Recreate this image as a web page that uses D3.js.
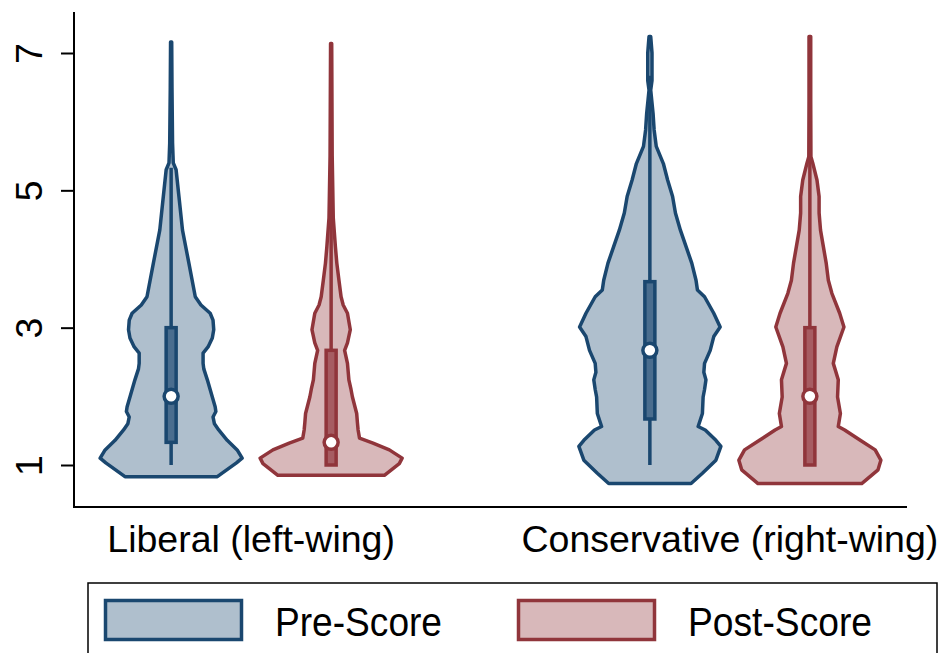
<!DOCTYPE html>
<html>
<head>
<meta charset="utf-8">
<script src="https://cdn.jsdelivr.net/npm/d3@7"></script>
<style>
  body { margin: 0; background: #fff; }
  svg { display: block; font-family: "Liberation Sans", Arial, sans-serif; }
</style>
</head>
<body>
<svg id="chart" width="947" height="653"></svg>
<script>
// groups on the x axis and the two series
const groups = ["Liberal (left-wing)", "Conservative (right-wing)"];
const series = ["Pre-Score", "Post-Score"];
const yTicks = [1, 3, 5, 7];

// violin outlines: [score, relative density]
const libPre = [
  [0.83, 0.65], [1.03, 0.92], [1.10, 1.00], [1.22, 0.93], [1.36, 0.79],
  [1.51, 0.67], [1.60, 0.61], [1.70, 0.59], [1.78, 0.63], [1.85, 0.62],
  [1.99, 0.58], [2.24, 0.51], [2.40, 0.46], [2.48, 0.45], [2.63, 0.45],
  [2.72, 0.52], [2.85, 0.58], [2.97, 0.60], [3.11, 0.59], [3.21, 0.55],
  [3.33, 0.42], [3.45, 0.34], [3.94, 0.25], [4.42, 0.16], [4.91, 0.11],
  [5.30, 0.07], [5.40, 0.03], [5.69, 0.02], [6.50, 0.012], [7.16, 0.008]
];
const libPost = [
  [0.85, 0.75], [1.02, 0.96], [1.10, 1.00], [1.22, 0.82], [1.32, 0.59],
  [1.39, 0.40], [1.51, 0.38], [1.62, 0.37], [1.75, 0.36], [1.99, 0.30],
  [2.10, 0.28], [2.24, 0.25], [2.48, 0.23], [2.67, 0.19], [2.78, 0.23],
  [2.97, 0.27], [3.21, 0.23], [3.33, 0.17], [3.45, 0.14], [3.69, 0.11],
  [3.94, 0.08], [4.18, 0.06], [4.60, 0.03], [5.50, 0.015], [7.14, 0.008]
];
const consPre = [
  [0.73, 0.58], [0.88, 0.74], [1.07, 0.93], [1.27, 1.00], [1.36, 0.93],
  [1.51, 0.78], [1.56, 0.68], [1.75, 0.74], [1.99, 0.75], [2.10, 0.77],
  [2.24, 0.79], [2.35, 0.76], [2.48, 0.77], [2.67, 0.85], [2.87, 0.90],
  [3.01, 0.99], [3.21, 0.90], [3.45, 0.77], [3.55, 0.67], [3.69, 0.65],
  [3.94, 0.59], [4.18, 0.51], [4.42, 0.43], [4.67, 0.36], [4.91, 0.32],
  [5.15, 0.25], [5.39, 0.19], [5.64, 0.09], [5.88, 0.06], [6.12, 0.045],
  [6.46, 0.012], [6.60, 0.03], [7.00, 0.03], [7.24, 0.012]
];
const consPost = [
  [0.73, 0.73], [0.93, 0.96], [1.07, 1.00], [1.22, 0.92], [1.36, 0.71],
  [1.51, 0.49], [1.56, 0.40], [1.75, 0.43], [1.99, 0.39], [2.24, 0.40],
  [2.48, 0.33], [2.72, 0.38], [3.01, 0.48], [3.21, 0.42], [3.50, 0.31],
  [3.69, 0.26], [3.94, 0.23], [4.18, 0.19], [4.42, 0.15], [4.67, 0.13],
  [4.91, 0.13], [5.15, 0.10], [5.40, 0.04], [5.49, 0.015], [6.30, 0.012],
  [7.24, 0.012]
];

// box stats: [q1, median, q3, lower adjacent, upper adjacent]
const libPreBox = [1.33, 2.00, 3.00, 1.00, 5.33];
const libPostBox = [1.00, 1.33, 2.67, 1.00, 5.00];
const consPreBox = [1.67, 2.67, 3.67, 1.00, 6.67];
const consPostBox = [1.00, 2.00, 3.00, 1.00, 6.00];

const violins = [
  {group: groups[0], serie: series[0], dens: libPre, box: libPreBox},
  {group: groups[0], serie: series[1], dens: libPost, box: libPostBox},
  {group: groups[1], serie: series[0], dens: consPre, box: consPreBox},
  {group: groups[1], serie: series[1], dens: consPost, box: consPostBox}
];

const colors = {
  "Pre-Score":  {line: "#1a476f", fill: "#afbfcd", box: "#4a6d8e"},
  "Post-Score": {line: "#90353b", fill: "#d8b8ba", box: "#a65c62"}
};

const svg = d3.select("#chart");

const axisLeft = 74, axisRight = 907, axisTop = 12, axisBottom = 507;

const y = d3.scaleLinear().domain([1, 7]).range([465, 53]);
const x = d3.scalePoint().domain(groups).range([axisLeft, axisRight]).padding(0.37);
const xInner = d3.scalePoint().domain(series).range([-80, 80]);
const w = d3.scaleLinear().domain([0, 1]).range([0, 71]);

// axes
svg.append("line")
  .attr("x1", axisLeft).attr("x2", axisLeft)
  .attr("y1", axisTop).attr("y2", axisBottom)
  .attr("stroke", "#000").attr("stroke-width", 2);
svg.append("line")
  .attr("x1", axisLeft - 1).attr("x2", axisRight)
  .attr("y1", axisBottom).attr("y2", axisBottom)
  .attr("stroke", "#000").attr("stroke-width", 2);

const yAxis = svg.append("g")
  .attr("transform", `translate(${axisLeft},0)`)
  .call(d3.axisLeft(y).tickValues(yTicks).tickSize(13).tickFormat(d3.format("d")));
yAxis.select(".domain").remove();
yAxis.selectAll(".tick line").attr("stroke", "#000").attr("stroke-width", 2);
yAxis.selectAll(".tick text")
  .attr("transform", "rotate(-90)")
  .attr("x", 0).attr("y", -32).attr("dy", 0)
  .attr("text-anchor", "middle")
  .attr("fill", "#000")
  .style("font-size", "37.5px")
  .style("font-family", "'Liberation Sans', Arial, sans-serif");

// group labels
svg.append("g").selectAll("text")
  .data(groups)
  .join("text")
  .attr("x", d => x(d))
  .attr("y", 552)
  .attr("text-anchor", "middle")
  .style("font-size", "37.5px")
  .text(d => d);

// violins
const vg = svg.append("g").selectAll("g")
  .data(violins)
  .join("g")
  .attr("transform", d => `translate(${x(d.group) + xInner(d.serie)},0)`);

vg.append("path")
  .attr("d", d => d3.area()
    .y(p => y(p[0]))
    .x0(p => -w(p[1]))
    .x1(p => w(p[1]))
    .curve(d3.curveLinear)(d.dens))
  .attr("fill", d => colors[d.serie].fill)
  .attr("stroke", d => colors[d.serie].line)
  .attr("stroke-width", 3.5)
  .attr("stroke-linejoin", "round");

// whiskers
vg.append("line")
  .attr("x1", 0).attr("x2", 0)
  .attr("y1", d => y(d.box[3]))
  .attr("y2", d => y(d.box[4]))
  .attr("stroke", d => colors[d.serie].line)
  .attr("stroke-width", 3.5);

// boxes
vg.append("rect")
  .attr("x", -5).attr("width", 10)
  .attr("y", d => y(d.box[2]))
  .attr("height", d => y(d.box[0]) - y(d.box[2]))
  .attr("fill", d => colors[d.serie].box)
  .attr("stroke", d => colors[d.serie].line)
  .attr("stroke-width", 3.5);

// medians
vg.append("circle")
  .attr("cx", 0)
  .attr("cy", d => y(d.box[1]))
  .attr("r", 7)
  .attr("fill", "#fff")
  .attr("stroke", d => colors[d.serie].line)
  .attr("stroke-width", 3.5);

// legend
const legend = svg.append("g");
legend.append("rect")
  .attr("x", 88).attr("y", 583)
  .attr("width", 849).attr("height", 90)
  .attr("fill", "#fff")
  .attr("stroke", "#000")
  .attr("stroke-width", 1.5);

const legendX = d3.scalePoint().domain(series).range([104, 517]);

const items = legend.selectAll("g.item")
  .data(series)
  .join("g")
  .attr("class", "item")
  .attr("transform", d => `translate(${legendX(d)},599)`);

items.append("rect")
  .attr("x", 1.5).attr("y", 1.5)
  .attr("width", 136).attr("height", 39)
  .attr("fill", d => colors[d].fill)
  .attr("stroke", d => colors[d].line)
  .attr("stroke-width", 3.5);

items.append("text")
  .attr("x", 171)
  .attr("y", 37)
  .style("font-size", "41px")
  .attr("textLength", d => d === "Pre-Score" ? 167 : 184)
  .attr("lengthAdjust", "spacingAndGlyphs")
  .text(d => d);
</script>
</body>
</html>
